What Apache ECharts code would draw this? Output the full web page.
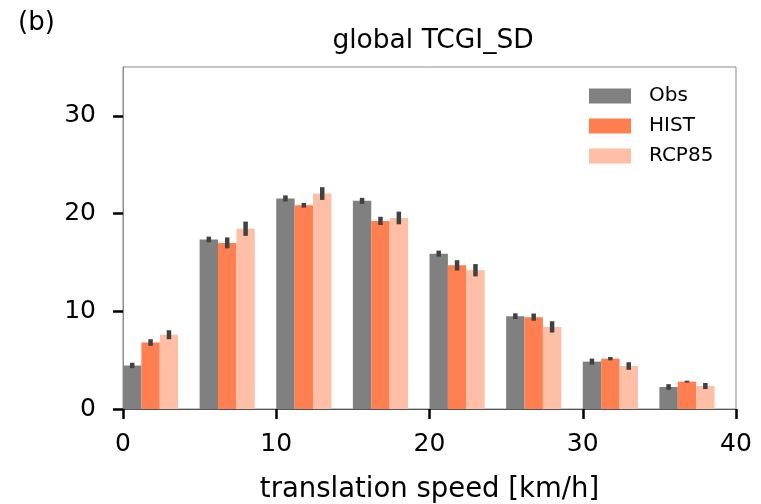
<!DOCTYPE html>
<html>
<head>
<meta charset="utf-8">
<script src="https://cdn.jsdelivr.net/npm/echarts@6/dist/echarts.min.js"></script>
<style>
  html, body { margin: 0; padding: 0; background: #fff; }
  #chart { width: 761px; height: 504px; }
</style>
</head>
<body>
<div id="chart"></div>
<script>
// Translation-speed bins (left edge, km/h), 5 km/h wide
const binStart = [0, 5, 10, 15, 20, 25, 30, 35];
const seriesNames = ['Obs', 'HIST', 'RCP85'];

// Percentage of TCGI_SD per bin
const obsValues   = [4.45, 17.35, 21.55, 21.3, 15.9, 9.5, 4.85, 2.25];
const histValues  = [6.8, 17.0, 20.85, 19.25, 14.7, 9.4, 5.15, 2.8];
const rcp85Values = [7.6, 18.45, 22.05, 19.55, 14.2, 8.4, 4.4, 2.35];

// Half-widths of the spread whiskers
const obsErr   = [0.28, 0.29, 0.31, 0.31, 0.31, 0.29, 0.31, 0.29];
const histErr  = [0.34, 0.56, 0.24, 0.42, 0.53, 0.37, 0.17, 0.10];
const rcp85Err = [0.46, 0.73, 0.65, 0.65, 0.63, 0.58, 0.39, 0.31];

const xTicks = [0, 10, 20, 30, 40];
const yTicks = [0, 10, 20, 30];

const colors = ['#808080', '#ff7f50', '#ffbfa7'];
const barWidth = 1.2;   // in km/h units
const FONT = 'DejaVu Sans';

const valueSets = [obsValues, histValues, rcp85Values];
const errSets = [obsErr, histErr, rcp85Err];

function barSeries(k) {
  return {
    name: seriesNames[k],
    type: 'custom',
    color: colors[k],
    itemStyle: { color: colors[k] },
    encode: { x: 0, y: 1 },
    data: binStart.map((b, i) => [b + barWidth * k, valueSets[k][i]]),
    renderItem: function (params, api) {
      const x0 = api.value(0);
      const v = api.value(1);
      const p0 = api.coord([x0, 0]);
      const p1 = api.coord([x0 + barWidth, v]);
      return {
        type: 'rect',
        shape: { x: p0[0], y: p1[1], width: p1[0] - p0[0], height: p0[1] - p1[1] },
        style: { fill: colors[k] }
      };
    },
    z: 2
  };
}

function errSeries(k) {
  return {
    name: seriesNames[k] + ' spread',
    type: 'custom',
    encode: { x: 0, y: [1, 2] },
    data: binStart.map((b, i) => [b + barWidth * (k + 0.5), valueSets[k][i] - errSets[k][i], valueSets[k][i] + errSets[k][i]]),
    renderItem: function (params, api) {
      const lo = api.coord([api.value(0), api.value(1)]);
      const hi = api.coord([api.value(0), api.value(2)]);
      const w = 4.5;
      return {
        type: 'rect',
        shape: { x: lo[0] - w / 2, y: hi[1], width: w, height: Math.max(lo[1] - hi[1], 1.5) },
        style: { fill: '#414141' }
      };
    },
    z: 5
  };
}

const chart = echarts.init(document.getElementById('chart'), null, { renderer: 'canvas' });
chart.setOption({
  animation: false,
  backgroundColor: '#ffffff',
  textStyle: { fontFamily: FONT },
  title: [
    {
      text: 'global TCGI_SD',
      left: 428, top: 23, textAlign: 'center',
      textStyle: { fontFamily: FONT, fontSize: 26.5, fontWeight: 'normal', color: '#000' }
    },
    {
      text: '(b)',
      left: 13, top: 5,
      textStyle: { fontFamily: FONT, fontSize: 26, fontWeight: 'normal', color: '#000' }
    }
  ],
  legend: {
    data: seriesNames,
    orient: 'vertical',
    left: 584, top: 81,
    icon: 'rect',
    itemWidth: 42, itemHeight: 15,
    itemGap: 10,
    textStyle: { fontFamily: FONT, fontSize: 20, color: '#000', padding: [0, 0, 0, 13] }
  },
  grid: {
    left: 123, top: 67, width: 613, height: 342,
    outerBoundsMode: 'none',
    containLabel: false,
    show: true, borderColor: '#8c8c8c', borderWidth: 1, backgroundColor: 'transparent'
  },
  xAxis: {
    type: 'value',
    min: 0, max: 40, interval: 10,
    name: 'translation speed [km/h]',
    nameLocation: 'middle', nameGap: 67,
    nameTextStyle: { fontFamily: FONT, fontSize: 27.5, color: '#000' },
    axisLine: { show: true, onZero: false, lineStyle: { color: '#555', width: 1 } },
    axisTick: { show: true, inside: false, length: 10, customValues: xTicks, lineStyle: { color: '#000', width: 2.5 } },
    axisLabel: {
      fontFamily: FONT, fontSize: 25, color: '#000', margin: 23,
      customValues: xTicks, formatter: v => String(v)
    },
    splitLine: { show: false }
  },
  yAxis: {
    type: 'value',
    min: 0, max: 35, interval: 10,
    axisLine: { show: true, lineStyle: { color: '#8c8c8c', width: 1 } },
    axisTick: { show: true, inside: false, length: 10, customValues: yTicks, lineStyle: { color: '#000', width: 2.5 } },
    axisLabel: {
      fontFamily: FONT, fontSize: 25, color: '#000', margin: 27,
      customValues: yTicks, formatter: v => String(v)
    },
    splitLine: { show: false }
  },
  series: [barSeries(0), barSeries(1), barSeries(2), errSeries(0), errSeries(1), errSeries(2)]
});
</script>
</body>
</html>
